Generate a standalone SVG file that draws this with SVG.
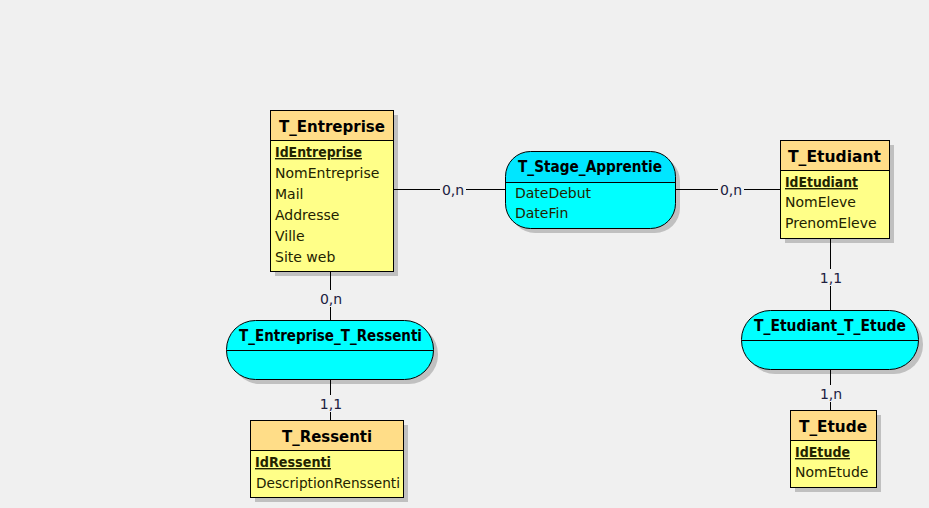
<svg xmlns="http://www.w3.org/2000/svg" width="929" height="508" viewBox="0 0 929 508">
<style>
.bg{fill:#f0f0f0}
.sh{fill:#c0c0c0}
.eh{fill:#ffdd88;stroke:#000;stroke-width:1}
.eb{fill:#ffff88;stroke:#000;stroke-width:1}
.ab{fill:#00ffff;stroke:#000;stroke-width:1}
.ah{fill:#00e6ff}
.ln{stroke:#000;stroke-width:1;fill:none}
.t{font-family:"DejaVu Sans",Verdana,sans-serif;font-size:16.5px;font-weight:bold;fill:#000}
.f{font-family:"DejaVu Sans",Verdana,sans-serif;font-size:14px;fill:#222200}
.k{font-weight:bold;text-decoration:underline}
.c{font-family:"DejaVu Sans",Verdana,sans-serif;font-size:14px;fill:#202040;text-anchor:middle}
.lb{fill:#f0f0f0}
</style>
<rect class="bg" x="0" y="0" width="929" height="508"/>
<g id="T_Entreprise">
<rect class="sh" x="275" y="115" width="123" height="161"/>
<rect class="eb" x="270.5" y="110.5" width="123" height="161"/>
<rect class="eh" x="270.5" y="110.5" width="123" height="30"/>
<text class="t" x="279" y="132" textLength="106" lengthAdjust="spacingAndGlyphs">T_Entreprise</text>
<text class="f k" x="275" y="157" textLength="87" lengthAdjust="spacingAndGlyphs">IdEntreprise</text>
<text class="f" x="275" y="178">NomEntreprise</text>
<text class="f" x="275" y="199">Mail</text>
<text class="f" x="275" y="220">Addresse</text>
<text class="f" x="275" y="241">Ville</text>
<text class="f" x="275" y="262">Site web</text>
</g>
<g id="T_Stage_Apprentie">
<rect class="sh" x="510" y="156" width="170" height="77" rx="25"/>
<path class="ab" d="M505.5,182.5 H675.5 V203.5 A25,25 0 0 1 650.5,228.5 H530.5 A25,25 0 0 1 505.5,203.5 Z" style="stroke:none"/>
<path class="ah" d="M530.5,151.5 H650.5 A25,25 0 0 1 675.5,176.5 V182.5 H505.5 V176.5 A25,25 0 0 1 530.5,151.5 Z"/>
<rect class="ln" x="505.5" y="151.5" width="170" height="77" rx="25"/>
<line class="ln" x1="505.5" y1="182.5" x2="675.5" y2="182.5"/>
<text class="t" x="518" y="172" textLength="144" lengthAdjust="spacingAndGlyphs">T_Stage_Apprentie</text>
<text class="f" x="515" y="198">DateDebut</text>
<text class="f" x="515" y="218">DateFin</text>
</g>
<g id="T_Etudiant">
<rect class="sh" x="785" y="145" width="109" height="98"/>
<rect class="eb" x="780.5" y="140.5" width="109" height="98"/>
<rect class="eh" x="780.5" y="140.5" width="109" height="30"/>
<text class="t" x="788" y="162" textLength="93" lengthAdjust="spacingAndGlyphs">T_Etudiant</text>
<text class="f k" x="785" y="187" textLength="73" lengthAdjust="spacingAndGlyphs">IdEtudiant</text>
<text class="f" x="785" y="207">NomEleve</text>
<text class="f" x="785" y="228">PrenomEleve</text>
</g>
<g id="T_Entreprise_T_Ressenti">
<rect class="sh" x="231" y="325" width="207" height="59" rx="29"/>
<rect class="ab" x="226.5" y="320.5" width="207" height="59" rx="29"/>
<line class="ln" x1="226.5" y1="350.5" x2="433.5" y2="350.5"/>
<text class="t" x="239" y="341" textLength="183" lengthAdjust="spacingAndGlyphs">T_Entreprise_T_Ressenti</text>
</g>
<g id="T_Ressenti">
<rect class="sh" x="255" y="425" width="153" height="77"/>
<rect class="eb" x="250.5" y="420.5" width="153" height="77"/>
<rect class="eh" x="250.5" y="420.5" width="153" height="30"/>
<text class="t" x="282" y="442" textLength="90" lengthAdjust="spacingAndGlyphs">T_Ressenti</text>
<text class="f k" x="255" y="467" textLength="76" lengthAdjust="spacingAndGlyphs">IdRessenti</text>
<text class="f" x="256" y="488" textLength="144" lengthAdjust="spacingAndGlyphs">DescriptionRenssenti</text>
</g>
<g id="T_Etudiant_T_Etude">
<rect class="sh" x="746" y="315" width="177" height="59" rx="29"/>
<rect class="ab" x="741.5" y="310.5" width="177" height="59" rx="29"/>
<line class="ln" x1="741.5" y1="340.5" x2="918.5" y2="340.5"/>
<text class="t" x="754" y="331" textLength="152" lengthAdjust="spacingAndGlyphs">T_Etudiant_T_Etude</text>
</g>
<g id="T_Etude">
<rect class="sh" x="795" y="415" width="86" height="77"/>
<rect class="eb" x="790.5" y="410.5" width="86" height="77"/>
<rect class="eh" x="790.5" y="410.5" width="86" height="30"/>
<text class="t" x="799" y="432" textLength="68" lengthAdjust="spacingAndGlyphs">T_Etude</text>
<text class="f k" x="795" y="457" textLength="55" lengthAdjust="spacingAndGlyphs">IdEtude</text>
<text class="f" x="795" y="477">NomEtude</text>
</g>
<g id="connectors">
<line class="ln" x1="394" y1="189.5" x2="505" y2="189.5"/>
<line class="ln" x1="676" y1="189.5" x2="780" y2="189.5"/>
<line class="ln" x1="330.5" y1="272" x2="330.5" y2="320"/>
<line class="ln" x1="330.5" y1="380" x2="330.5" y2="420"/>
<line class="ln" x1="830.5" y1="239" x2="830.5" y2="310"/>
<line class="ln" x1="830.5" y1="370" x2="830.5" y2="410"/>
<rect class="lb" x="440" y="181" width="26" height="17"/>
<text class="c" x="453" y="195">0,n</text>
<rect class="lb" x="718" y="181" width="26" height="17"/>
<text class="c" x="731" y="195">0,n</text>
<rect class="lb" x="318" y="290" width="26" height="17"/>
<text class="c" x="331" y="304">0,n</text>
<rect class="lb" x="318" y="395" width="26" height="17"/>
<text class="c" x="331" y="409">1,1</text>
<rect class="lb" x="818" y="269" width="26" height="17"/>
<text class="c" x="831" y="283">1,1</text>
<rect class="lb" x="818" y="385" width="26" height="17"/>
<text class="c" x="831" y="399">1,n</text>
</g>
</svg>
